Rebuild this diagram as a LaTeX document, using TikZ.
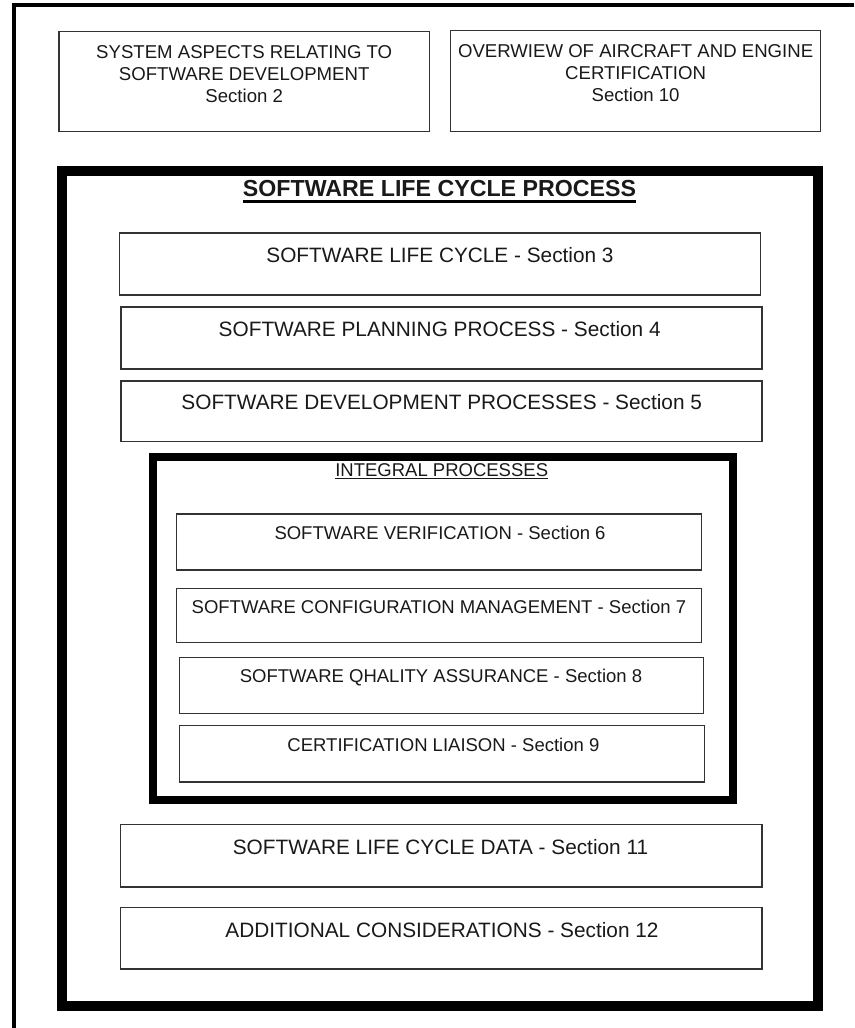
\documentclass[tikz,border=0pt]{standalone}
\usepackage{fontspec}
\setmainfont{Liberation Sans}
\newcommand\fTop{\fontsize{18.6}{22.4}\selectfont}
\newcommand\fMain{\fontsize{20.8}{24}\selectfont}
\newcommand\fInt{\fontsize{18.5}{22}\selectfont}
\newcommand\fTitle{\bfseries\fontsize{23.2}{26}\selectfont}
\tikzset{
  thinbox/.style={draw=black!80, line width=1.3pt, inner sep=0pt},
  frame/.style={draw=black, inner sep=0pt},
  lbl/.style={anchor=base, inner sep=0pt, text=black!90},
  mlbl/.style={anchor=north, inner sep=0pt, align=center, text=black!90},
}
\begin{document}
\begin{tikzpicture}[x=1pt,y=-1pt]
\useasboundingbox (0,0) rectangle (854,1028);
% page border (only top and left visible)
\draw[line width=4pt] (14,1028) -- (14,5.3) -- (854,5.3);

% top boxes
\node[thinbox, minimum width=370.4pt, minimum height=100.1pt] (b2) at (244.2,81.65) {};
\node[mlbl, font=\fTop] (t2) at (244.2,45) {SYSTEM ASPECTS RELATING TO\\SOFTWARE DEVELOPMENT\\Section 2};
\node[thinbox, minimum width=370.4pt, minimum height=100.8pt] (b10) at (635.5,81) {};
\node[mlbl, font=\fTop] (t10) at (635.6,44) {OVERWIEW OF AIRCRAFT AND ENGINE\\CERTIFICATION\\Section 10};

% software life cycle process frame
\node[frame, line width=10.3pt, minimum width=755.9pt, minimum height=835.1pt] (slcp) at (439.8,588.3) {};
\node[lbl, font=\fTitle] (title) at (439.5,196.7) {SOFTWARE LIFE CYCLE PROCESS};
\draw[line width=2.6pt] ([yshift=-5pt]title.base west) -- ([yshift=-5pt]title.base east);

\node[thinbox, minimum width=640.8pt, minimum height=62.2pt] (b3) at (440,264) {};
\node[lbl, font=\fMain] (t3) at (440,262.7) {SOFTWARE LIFE CYCLE - Section 3};
\node[thinbox, minimum width=641.2pt, minimum height=62.2pt] (b4) at (441.5,338) {};
\node[lbl, font=\fMain] (t4) at (439.7,336.7) {SOFTWARE PLANNING PROCESS - Section 4};
\node[thinbox, minimum width=641.2pt, minimum height=60.8pt] (b5) at (441.5,411.3) {};
\node[lbl, font=\fMain] (t5) at (441.7,409.3) {SOFTWARE DEVELOPMENT PROCESSES - Section 5};

% integral processes frame
\node[frame, line width=8pt, minimum width=579.5pt, minimum height=343.6pt] (ip) at (442.75,628.4) {};
\node[lbl, font=\fInt] (ipt) at (441.7,476.7) {INTEGRAL PROCESSES};
\draw[line width=1.2pt, black!90] ([yshift=-2pt]ipt.base west) -- ([yshift=-2pt]ipt.base east);

\node[thinbox, minimum width=525.1pt, minimum height=56.2pt] (b6) at (439.15,542) {};
\node[lbl, font=\fInt] (t6) at (440,539) {SOFTWARE VERIFICATION - Section 6};
\node[thinbox, minimum width=525.1pt, minimum height=54.4pt] (b7) at (439.15,615.5) {};
\node[lbl, font=\fInt] (t7) at (438.9,613.3) {SOFTWARE CONFIGURATION MANAGEMENT - Section 7};
\node[thinbox, minimum width=523.8pt, minimum height=56.4pt] (b8) at (441.5,685.5) {};
\node[lbl, font=\fInt] (t8) at (441,682.3) {SOFTWARE QHALITY ASSURANCE - Section 8};
\node[thinbox, minimum width=525.1pt, minimum height=56.5pt] (b9) at (442.15,753.85) {};
\node[lbl, font=\fInt] (t9) at (443.4,751) {CERTIFICATION LIAISON - Section 9};

% lower boxes
\node[thinbox, minimum width=641.5pt, minimum height=62.8pt] (b11) at (441.35,855.7) {};
\node[lbl, font=\fMain] (t11) at (440.5,854) {SOFTWARE LIFE CYCLE DATA - Section 11};
\node[thinbox, minimum width=641.5pt, minimum height=61.5pt] (b12) at (441.35,938.35) {};
\node[lbl, font=\fMain] (t12) at (442,937.3) {ADDITIONAL CONSIDERATIONS - Section 12};
\end{tikzpicture}
\end{document}
